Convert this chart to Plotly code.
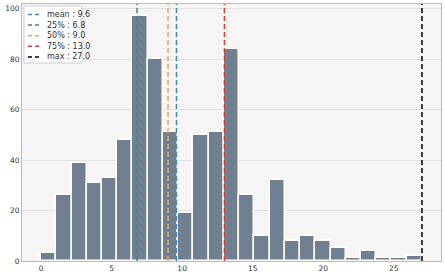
import numpy as np
import plotly.graph_objects as go

# Histogram data: 25 bins spanning 0..27
bin_min = 0.0
bin_max = 27.0
n_bins = 25
counts = [3, 26, 39, 31, 33, 48, 97, 80, 51, 19, 50, 51, 84, 26, 10, 32, 8, 10, 8, 5, 1, 4, 1, 1, 2]

stat_names = ["mean", "25%", "50%", "75%", "max"]
stat_values = [9.6, 6.8, 9.0, 13.0, 27.0]
stat_colors = ["#3f88b5", "#3a8a80", "#f5a54a", "#d9402e", "#000000"]

x_ticks = [0, 5, 10, 15, 20, 25]
y_ticks = [0, 20, 40, 60, 80, 100]

W, H = 445, 275
ML, MR, MT, MB = 22, 4, 4, 14
PW, PH = W - ML - MR, H - MT - MB

def px(x):
    return (x - ML) / PW

def py(y):
    return 1 - (y - MT) / PH

edges = np.linspace(bin_min, bin_max, n_bins + 1)
centers = (edges[:-1] + edges[1:]) / 2
width = edges[1] - edges[0]

pad = 0.05 * (bin_max - bin_min)
y_top = max(counts) * 1.05

fig = go.Figure()
fig.add_trace(go.Bar(
    x=centers, y=counts, width=width,
    marker=dict(color="#708090", line=dict(color="white", width=1.5)),
    showlegend=False, hoverinfo="skip",
))
for name, val, col in zip(stat_names, stat_values, stat_colors):
    fig.add_trace(go.Scatter(
        x=[val, val], y=[0, y_top], mode="lines",
        line=dict(color=col, width=1.5, dash="5px,3px"),
        name=f"{name} : {val:.1f}", showlegend=False, hoverinfo="skip",
    ))

# Manual compact legend
shapes = [dict(type="rect", xref="paper", yref="paper",
               x0=px(24), x1=px(82), y0=py(63), y1=py(6),
               fillcolor="white", line=dict(color="#d0d0d0", width=1), layer="above")]
annotations = []
row0, step = 14.5, 10.6
for i, (name, val, col) in enumerate(zip(stat_names, stat_values, stat_colors)):
    yy = row0 + i * step
    shapes.append(dict(type="line", xref="paper", yref="paper",
                       x0=px(28), x1=px(40), y0=py(yy), y1=py(yy),
                       line=dict(color=col, width=1.5, dash="4px,3px"), layer="above"))
    annotations.append(dict(xref="paper", yref="paper", x=px(45), y=py(yy),
                            xanchor="left", yanchor="middle", showarrow=False,
                            text=f"{name} : {val:.1f}",
                            font=dict(size=8, color="#333333")))

fig.update_layout(
    width=W, height=H,
    margin=dict(l=ML, r=MR, t=MT, b=MB, autoexpand=False),
    paper_bgcolor="white",
    plot_bgcolor="#f5f5f5",
    font=dict(family="DejaVu Sans", size=7.5, color="#333333"),
    bargap=0,
    showlegend=False,
    shapes=shapes,
    annotations=annotations,
)
fig.update_xaxes(
    range=[bin_min - pad, bin_max + pad], automargin=False,
    tickvals=x_ticks, showgrid=False, zeroline=False,
    showline=True, linecolor="#bbbbbb", mirror=True,
    ticks="",
)
fig.update_yaxes(
    range=[0, y_top], automargin=False,
    tickvals=y_ticks, showgrid=True, gridcolor="#e0e0e0", zeroline=False,
    showline=True, linecolor="#bbbbbb", mirror=True,
    ticks="",
)

fig.write_html("out.html")
